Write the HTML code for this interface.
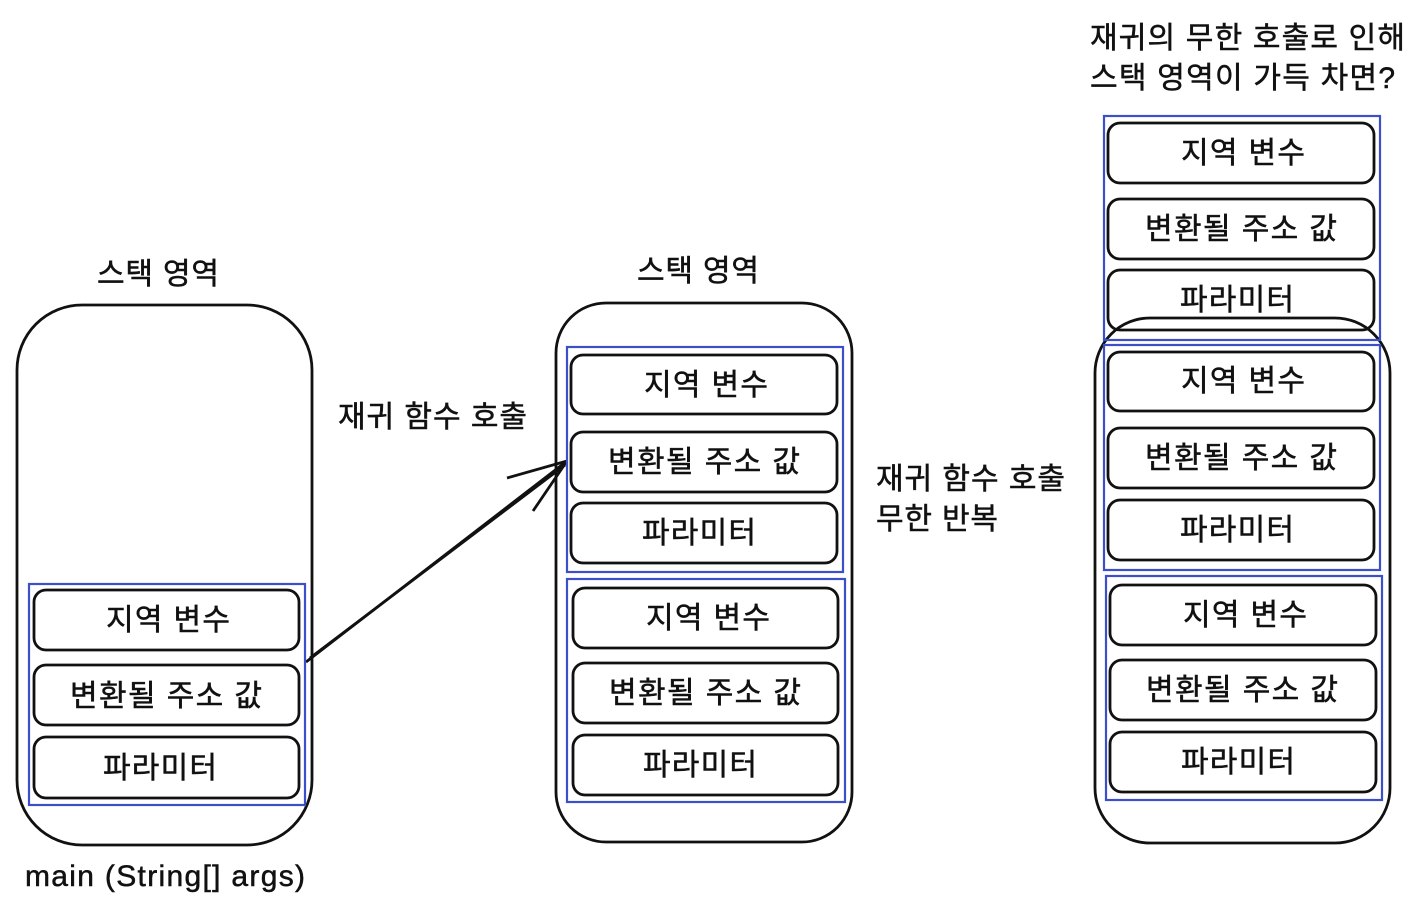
<!DOCTYPE html>
<html><head><meta charset="utf-8"><style>
html,body{margin:0;padding:0;background:#fff;}
svg{display:block}
text{font-family:"Liberation Sans","Noto Sans CJK KR",sans-serif;fill:#111;stroke:#111;stroke-width:0.5;}
</style></head><body>
<svg width="1418" height="906" viewBox="0 0 1418 906" xmlns="http://www.w3.org/2000/svg">
<g fill="none" stroke="#111" stroke-width="2.8">
<rect x="17" y="305" width="295" height="540" rx="65"/>
<rect x="556" y="303" width="296" height="539" rx="50"/>
<rect x="1095" y="318" width="295" height="525" rx="55"/>
<rect x="34" y="590" width="265" height="60" rx="12"/>
<rect x="34" y="665" width="265" height="60" rx="12"/>
<rect x="34" y="737" width="265" height="61" rx="12"/>
<rect x="571" y="355" width="266" height="59" rx="12"/>
<rect x="571" y="432" width="266" height="60" rx="12"/>
<rect x="571" y="503" width="266" height="60" rx="12"/>
<rect x="573" y="588" width="265" height="60" rx="12"/>
<rect x="573" y="663" width="265" height="60" rx="12"/>
<rect x="573" y="735" width="265" height="60" rx="12"/>
<rect x="1108" y="123" width="266" height="60" rx="12"/>
<rect x="1108" y="199" width="266" height="60" rx="12"/>
<rect x="1108" y="270" width="266" height="60" rx="12"/>
<rect x="1108" y="352" width="266" height="59" rx="12"/>
<rect x="1108" y="428" width="266" height="60" rx="12"/>
<rect x="1108" y="500" width="266" height="60" rx="12"/>
<rect x="1110" y="585" width="266" height="60" rx="12"/>
<rect x="1110" y="660" width="266" height="60" rx="12"/>
<rect x="1110" y="732" width="266" height="60" rx="12"/>
<line x1="306" y1="662" x2="567" y2="461"/>
<line x1="310" y1="658" x2="565" y2="465"/>
<line x1="567" y1="461" x2="507" y2="478"/>
<line x1="567" y1="461" x2="533" y2="511"/>
</g>
<g fill="none" stroke="#3a4fc8" stroke-width="2.2">
<rect x="29" y="584" width="276" height="221"/>
<rect x="567" y="347" width="276" height="225"/>
<rect x="567" y="579" width="278" height="223"/>
<rect x="1104" y="116" width="276" height="224"/>
<rect x="1104" y="345" width="276" height="225"/>
<rect x="1106" y="576" width="276" height="224"/>
</g>
<g font-size="30" text-anchor="middle">
<text x="158" y="284" textLength="122">스택 영역</text>
<text x="698" y="281" textLength="122">스택 영역</text>
<text x="168" y="630" textLength="124">지역 변수</text>
<text x="166" y="706" textLength="192">변환될 주소 값</text>
<text x="160" y="778" textLength="114">파라미터</text>
<text x="706" y="395" textLength="124">지역 변수</text>
<text x="704" y="472" textLength="192">변환될 주소 값</text>
<text x="699" y="543" textLength="114">파라미터</text>
<text x="708" y="628" textLength="124">지역 변수</text>
<text x="705" y="703" textLength="192">변환될 주소 값</text>
<text x="700" y="775" textLength="114">파라미터</text>
<text x="1243" y="163" textLength="124">지역 변수</text>
<text x="1241" y="239" textLength="192">변환될 주소 값</text>
<text x="1237" y="310" textLength="114">파라미터</text>
<text x="1243" y="391" textLength="124">지역 변수</text>
<text x="1241" y="468" textLength="192">변환될 주소 값</text>
<text x="1237" y="540" textLength="114">파라미터</text>
<text x="1245" y="625" textLength="124">지역 변수</text>
<text x="1242" y="700" textLength="192">변환될 주소 값</text>
<text x="1238" y="772" textLength="114">파라미터</text>
</g>
<g font-size="30">
<text x="25" y="886" textLength="280">main (String[] args)</text>
<text x="338" y="427" textLength="189">재귀 함수 호출</text>
<text x="876" y="489" textLength="189">재귀 함수 호출</text>
<text x="876" y="529" textLength="122">무한 반복</text>
<text x="1090" y="48" textLength="315">재귀의 무한 호출로 인해</text>
<text x="1090" y="88" textLength="305">스택 영역이 가득 차면?</text>
</g>
</svg>
</body></html>
